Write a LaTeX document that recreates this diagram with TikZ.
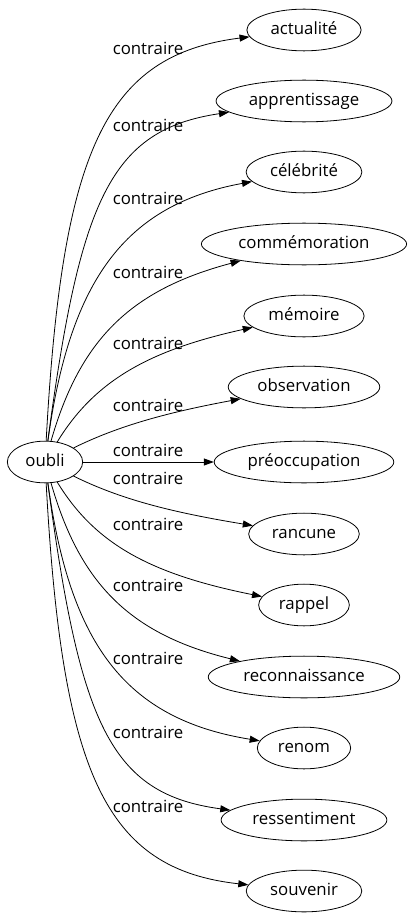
\documentclass[tikz,border=0pt]{standalone}
\usepackage{fontspec}
\setmainfont{Open Sans}
\usepackage{tikz}
\usetikzlibrary{arrows.meta,shapes.geometric}

\tikzset{
  word/.style={draw, ellipse, line width=0.8pt, inner xsep=7pt, inner ysep=7pt,
    text height=12pt, text depth=3.5pt},
  rel/.style={inner sep=0pt},
  edge/.style={->, line width=0.8pt}
}

\begin{document}
\begin{tikzpicture}[x=1pt, y=-1pt, every node/.style={font=\fontsize{16.8}{20}\selectfont},
    >={Triangle[length=10pt, width=7pt]}]
	\useasboundingbox (0,0) rectangle (407,923);
	% source and targets
	\node[word] (oubli) at (45,462) {oubli};
	\node[word] (actualite) at (304,30) {actualité};
	\node[word] (apprentissage) at (304,101) {apprentissage};
	\node[word] (celebrite) at (304,172) {célébrité};
	\node[word] (commemoration) at (304,244) {commémoration};
	\node[word] (memoire) at (304,316) {mémoire};
	\node[word] (observation) at (304,387) {observation};
	\node[word] (preoccupation) at (304,462) {préoccupation};
	\node[word] (rancune) at (304,534) {rancune};
	\node[word] (rappel) at (304,605) {rappel};
	\node[word] (reconnaissance) at (304,677) {reconnaissance};
	\node[word] (renom) at (304,748) {renom};
	\node[word] (ressentiment) at (304,820) {ressentiment};
	\node[word] (souvenir) at (304,891) {souvenir};
	% edges
	\draw[edge] (oubli) .. controls (62,150) and (105,55) .. (actualite);
	\draw[edge] (oubli) .. controls (80,200) and (110,130) .. (apprentissage);
	\draw[edge] (oubli) .. controls (70,280) and (125,205) .. (celebrite);
	\draw[edge] (oubli) .. controls (80,340) and (130,290) .. (commemoration);
	\draw[edge] (oubli) .. controls (95,380) and (150,350) .. (memoire);
	\draw[edge] (oubli) .. controls (120,425) and (170,412) .. (observation);
	\draw[edge] (oubli) -- (preoccupation);
	\draw[edge] (oubli) .. controls (120,499) and (170,512) .. (rancune);
	\draw[edge] (oubli) .. controls (95,544) and (150,574) .. (rappel);
	\draw[edge] (oubli) .. controls (80,584) and (130,634) .. (reconnaissance);
	\draw[edge] (oubli) .. controls (70,644) and (125,719) .. (renom);
	\draw[edge] (oubli) .. controls (80,724) and (110,794) .. (ressentiment);
	\draw[edge] (oubli) .. controls (62,774) and (105,869) .. (souvenir);
	% labels
	\node[rel] (r1) at (148,48) {contraire};
	\node[rel] (r2) at (148,125) {contraire};
	\node[rel] (r3) at (148,198) {contraire};
	\node[rel] (r4) at (148,272) {contraire};
	\node[rel] (r5) at (148,343) {contraire};
	\node[rel] (r6) at (148,405) {contraire};
	\node[rel] (r7) at (148,450) {contraire};
	\node[rel] (r8) at (148,478) {contraire};
	\node[rel] (r9) at (148,524) {contraire};
	\node[rel] (r10) at (148,585) {contraire};
	\node[rel] (r11) at (148,658) {contraire};
	\node[rel] (r12) at (148,732) {contraire};
	\node[rel] (r13) at (148,806) {contraire};
\end{tikzpicture}
\end{document}
